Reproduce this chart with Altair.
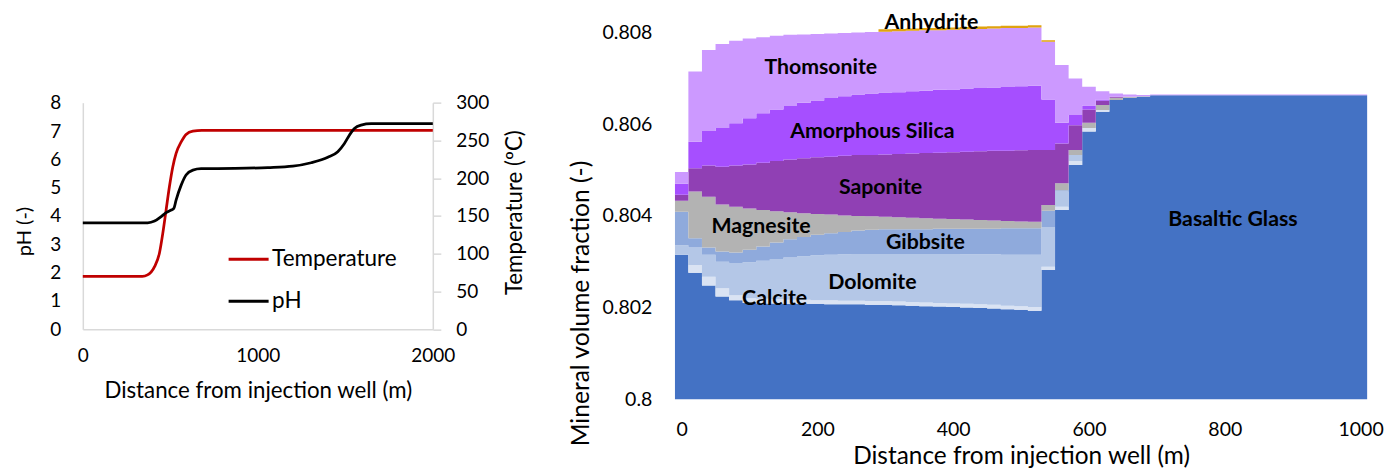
import altair as alt
import pandas as pd

# ---------------- Left panel: pH and temperature profiles ----------------
temp_dist = [0, 340, 370, 410, 438, 457, 476, 495, 514, 533, 562, 590, 629, 680, 2000]
temp_c = [70, 70, 72, 83, 101, 127, 158, 189, 215, 233, 248, 258, 262.5, 263.5, 263.5]

ph_dist = [0, 371, 410, 448, 476, 505, 520, 533, 562, 590, 629, 676, 867, 1057, 1200,
           1305, 1400, 1457, 1495, 1524, 1552, 1590, 1648, 2000]
ph_val = [3.76, 3.76, 3.82, 3.98, 4.12, 4.21, 4.27, 4.56, 5.09, 5.45, 5.62, 5.67, 5.68,
          5.71, 5.76, 5.88, 6.07, 6.27, 6.56, 6.86, 7.09, 7.21, 7.26, 7.26]

series_names = ["Temperature", "pH"]
series_colors = ["#C00000", "#000000"]

# ---------------- Right panel: mineral volume fractions (20 m cells) ----------------
cell_dist = list(range(0, 1001, 20))  # cell centres, m

basaltic_glass = [0.80315, 0.80276, 0.80248, 0.80224, 0.80216, 0.80210, 0.80209, 0.80209,
                  0.80208, 0.80208, 0.80208, 0.80207, 0.80207, 0.80207, 0.80206, 0.80206,
                  0.80205, 0.80204, 0.80203, 0.80202, 0.80201, 0.80200, 0.80199, 0.80198,
                  0.80196, 0.80195, 0.80193, 0.80282, 0.80413, 0.80511, 0.80584, 0.80627,
                  0.80653, 0.80658, 0.80660] + [0.80663] * 16
# the other minerals, in units of 1e-3 volume fraction
calcite = [0, .17, .19, .18, .11, .10, .10, .09, .09, .09, .08, .09, .08, .08, .08, .08,
           .08, .08, .08, .08, .08, .08, .08, .08, .08, .08, .08, .07, .07, .09, .08, .04,
           0, 0, 0] + [0] * 16
dolomite = [.21, .38, .48, .58, .70, .79, .83, .88, .92, .95, .98, .99, 1.01, 1.02, 1.03,
            1.03, 1.04, 1.05, 1.06, 1.07, 1.08, 1.08, 1.09, 1.10, 1.11, 1.12, 1.14, .87,
            .33, .13, 0, 0, 0, 0, 0] + [0] * 16
gibbsite = [.73, .20, .16, .22, .23, .27, .31, .36, .40, .42, .45, .47, .49, .51, .53, .54,
            .54, .54, .54, .55, .55, .56, .56, .56, .58, .58, .58, .35, .03, 0, 0, 0, 0, 0,
            0] + [0] * 16
magnesite = [.24, 1.02, 1.11, 1.03, 1.00, .90, .80, .68, .59, .52, .45, .41, .36, .32, .29,
             .27, .26, .25, .24, .22, .21, .20, .19, .18, .16, .15, .14, .13, .15, .11, .11,
             .11, .05, .02, .01] + [0] * 16
saponite = [.13, .51, .68, .82, .90, .96, 1.03, 1.10, 1.15, 1.20, 1.24, 1.26, 1.30, 1.33,
            1.34, 1.36, 1.38, 1.40, 1.42, 1.44, 1.46, 1.48, 1.50, 1.52, 1.53, 1.55, 1.57,
            1.20, .87, .54, .29, .09, .02, 0, 0] + [0] * 16
amorphous_silica = [.24, .58, .75, .85, .92, 1.01, 1.08, 1.12, 1.17, 1.21, 1.24, 1.28, 1.30,
                    1.32, 1.34, 1.35, 1.35, 1.36, 1.36, 1.37, 1.37, 1.38, 1.38, 1.38, 1.39,
                    1.40, 1.40, 1.10, .45, .22, .09, .03, 0, 0, 0] + [0] * 16
thomsonite = [.26, 1.53, 1.77, 1.83, 1.80, 1.74, 1.66, 1.61, 1.55, 1.49, 1.45, 1.41, 1.38,
              1.35, 1.34, 1.33, 1.33, 1.32, 1.32, 1.30, 1.30, 1.29, 1.29, 1.29, 1.29, 1.27,
              1.27, 1.26, 1.26, .80, .41, .18, .07, .05, .03] + [.02] * 16
anhydrite = [0] * 15 + [.05] * 12 + [.03] + [0] * 23

minerals = ["Basaltic Glass", "Calcite", "Dolomite", "Gibbsite", "Magnesite", "Saponite",
            "Amorphous Silica", "Thomsonite", "Anhydrite"]
mineral_colors = ["#4472C4", "#DAE3F3", "#B4C7E7", "#8FAADC", "#B3B3B3", "#9040B4",
                  "#A64FFF", "#CC99FF", "#E0A30F"]

label_text = ["Anhydrite", "Thomsonite", "Amorphous Silica", "Saponite", "Magnesite",
              "Gibbsite", "Dolomite", "Calcite", "Basaltic Glass"]
label_x = [368, 205, 281, 293, 117, 359, 281, 137, 812]
label_y = [0.80821, 0.80723, 0.80583, 0.80461, 0.80376, 0.80341, 0.80254, 0.80219, 0.80391]

# ---------------- build tables ----------------
df_t = pd.DataFrame({"dist": temp_dist, "val": temp_c, "series": "Temperature"})
df_p = pd.DataFrame({"dist": ph_dist, "val": ph_val, "series": "pH"})

minor = [calcite, dolomite, gibbsite, magnesite, saponite, amorphous_silica, thomsonite, anhydrite]
rows = []
half = (cell_dist[1] - cell_dist[0]) / 2
for idx, name in enumerate(minerals):
    vals = basaltic_glass if idx == 0 else [v / 1000 for v in minor[idx - 1]]
    for c, v in zip(cell_dist, vals):
        rows.append({"dist": c - half, "value": v, "mineral": name, "idx": idx})
    rows.append({"dist": cell_dist[-1] + half, "value": vals[-1], "mineral": name, "idx": idx})
df_m = pd.DataFrame(rows)
df_lab = pd.DataFrame({"label": label_text, "x": label_x, "y": label_y})

FONT = "Lato"
GRAY = "#D9D9D9"

# ---------------- layout numbers (px) ----------------
H = 389.55
L_W = 350
R_W = 692.6
left_range = [319.65, 93.05]

color_enc = alt.Color("series:N",
                      scale=alt.Scale(domain=series_names, range=series_colors),
                      legend=alt.Legend(title=None, orient="none", legendX=144.3, legendY=228,
                                        symbolType="stroke", symbolSize=1600,
                                        symbolStrokeWidth=3, labelFontSize=22.5, labelFont=FONT,
                                        labelColor="black", labelOffset=2, rowPadding=9,
                                        padding=0, direction="vertical"))

x_left = alt.X("dist:Q", scale=alt.Scale(domain=[0, 2000], nice=False),
               axis=alt.Axis(values=[0, 1000, 2000], format="d", labelFlush=False,
                             title="Distance from injection well (m)",
                             offset=-69.95, domainColor=GRAY, domainWidth=1.5, ticks=False,
                             tickSize=0, labelPadding=26, labelBaseline="middle",
                             labelFontSize=19, titleFontSize=22.3, titleY=61.7,
                             titleBaseline="middle"))

temp_line = alt.Chart(df_t).mark_line(interpolate="monotone", strokeWidth=2.75).encode(
    x=x_left,
    y=alt.Y("val:Q", scale=alt.Scale(domain=[0, 300], range=left_range, nice=False),
            axis=alt.Axis(orient="right", values=[0, 50, 100, 150, 200, 250, 300],
                          labelFlush=False,
                          title="Temperature (ºC)", domainColor=GRAY, domainWidth=1.5,
                          tickColor=GRAY, tickSize=8, tickWidth=1.5, labelPadding=15,
                          labelFontSize=19, titleFontSize=22.3, titleAngle=270,
                          titleX=81.3, titleY=202.5, titleBaseline="middle")),
    color=color_enc,
)

ph_line = alt.Chart(df_p).mark_line(interpolate="monotone", strokeWidth=2.75).encode(
    x=x_left,
    y=alt.Y("val:Q", scale=alt.Scale(domain=[0, 8], range=left_range, nice=False),
            axis=alt.Axis(orient="left", values=[0, 1, 2, 3, 4, 5, 6, 7, 8], title="pH (-)",
                          labelFlush=False,
                          domainColor=GRAY, domainWidth=1.5, ticks=False, tickSize=0,
                          labelPadding=22, labelFontSize=19, titleFontSize=20,
                          titleX=-58.4, titleY=221.4, titleBaseline="middle")),
    color=color_enc,
)

left = alt.layer(temp_line, ph_line).resolve_scale(y="independent").properties(
    width=L_W, height=H)

x_right = alt.X("dist:Q", scale=alt.Scale(domain=[-10, 1010], nice=False, zero=False),
                axis=alt.Axis(values=[0, 200, 400, 600, 800, 1000], format="d",
                              labelFlush=False,
                              title="Distance from injection well (m)", domain=False,
                              ticks=False, tickSize=0, labelPadding=30, labelBaseline="middle",
                              labelFontSize=19.5, titleFontSize=24.4, titleY=57.8,
                              titleBaseline="middle"))
y_axis_right = alt.Axis(values=[0.8, 0.802, 0.804, 0.806, 0.808], format=".3~f",
                        labelFlush=False,
                        title="Mineral volume fraction (-)", domain=False, ticks=False,
                        tickSize=0, labelPadding=23, labelFontSize=19.5, titleFontSize=24.6,
                        titleX=-93.7, titleY=293.4, titleBaseline="middle")

areas = alt.Chart(df_m).mark_area(interpolate="step-after", clip=True).encode(
    x=x_right,
    y=alt.Y("value:Q", stack="zero",
            scale=alt.Scale(domain=[0.8, 0.8085], zero=False, nice=False),
            axis=y_axis_right),
    color=alt.Color("mineral:N", scale=alt.Scale(domain=minerals, range=mineral_colors),
                    legend=None),
    order=alt.Order("idx:Q", sort="ascending"),
)

labels = alt.Chart(df_lab).mark_text(font=FONT, fontWeight="bold", fontSize=21.3,
                                     color="black").encode(
    x=alt.X("x:Q"),
    y=alt.Y("y:Q"),
    text="label:N",
)

right = alt.layer(areas, labels).properties(width=R_W, height=H)

chart = alt.hconcat(left, right, spacing=242, bounds="flush").resolve_scale(
    color="independent"
).properties(
    padding={"left": 5.8, "top": 1.65, "right": 5, "bottom": 2},
).configure_view(stroke=None).configure_axis(
    grid=False, labelFont=FONT, titleFont=FONT, labelColor="black", titleColor="black",
    titleFontWeight="normal",
)

chart.save("out.html", embed_options={"renderer": "svg", "actions": False})
